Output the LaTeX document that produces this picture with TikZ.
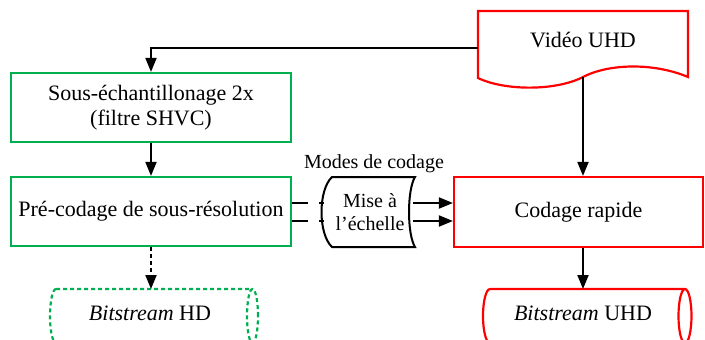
\documentclass[tikz,border=0pt]{standalone}
\usepackage{fontspec}
\setmainfont{Liberation Serif}
\usetikzlibrary{arrows.meta}
\definecolor{boxgreen}{RGB}{0,176,80}
\definecolor{boxred}{RGB}{255,0,0}
\begin{document}
\begin{tikzpicture}[x=1pt,y=-1pt,
  every node/.style={font=\fontsize{22}{25}\selectfont, inner sep=0pt},
  greenbox/.style={draw=boxgreen, line width=2.2pt, minimum width=280pt, minimum height=69pt, align=center},
  redbox/.style={draw=boxred, line width=2.2pt, minimum width=249pt, minimum height=70pt, align=center},
  conn/.style={line width=2pt, -{Triangle[length=14pt,width=11pt]}},
  smalltext/.style={font=\fontsize{20}{23}\selectfont, align=center}]
\useasboundingbox (0,0) rectangle (705,340);
\clip (0,0) rectangle (705,340);

% Video UHD (document shape)
\draw[boxred, line width=2.2pt] (478,11) -- (688,11) -- (688,77)
  .. controls (655,63) and (610,63) .. (583,77)
  .. controls (556,91) and (505,91) .. (478,78) -- cycle;
\node (video) at (583,40) {Vidéo UHD};
\coordinate (videoL) at (478,48);
\coordinate (videoB) at (583,77);

% boxes
\node[greenbox] (sous) at (151,107.5) {Sous-échantillonage 2x\\(filtre SHVC)};
\node[greenbox] (pre) at (151,211.5) {Pré-codage de sous-résolution};
\node[redbox] (codage) at (578.5,212) {Codage rapide};

% Mise a l'echelle (stored data shape)
\draw[line width=2pt] (332,177) -- (415,177)
  .. controls (407,190) and (407,234) .. (415,247) -- (332,247)
  .. controls (318,234) and (318,190) .. (332,177) -- cycle;
\node[smalltext] (mise) at (370,212) {Mise à\\l’échelle};
\node[smalltext, anchor=base] (modes) at (374,168) {Modes de codage};
\coordinate (miseLa) at (323.5,203);
\coordinate (miseLb) at (323.5,221);
\coordinate (miseRa) at (413,203);
\coordinate (miseRb) at (413,221);

% Bitstream HD cylinder
\draw[boxgreen, line width=2.2pt, dash pattern=on 4pt off 3pt]
  (56,289) -- (252.5,289)
  (56,289) arc[start angle=90, end angle=270, x radius=6pt, y radius=27pt] -- (252.5,343)
  (252.5,316) ellipse[x radius=5.5pt, y radius=27pt];
\node (hd) at (150,313) {\textit{Bitstream} HD};
\coordinate (hdT) at (151,289);

% Bitstream UHD cylinder
\draw[boxred, line width=2.2pt]
  (490,289) -- (685,289)
  (490,289) arc[start angle=90, end angle=270, x radius=7pt, y radius=27pt] -- (685,343)
  (685,316) ellipse[x radius=6.5pt, y radius=27pt];
\node (uhd) at (583,313) {\textit{Bitstream} UHD};
\coordinate (uhdT) at (583,289);

% connectors
\draw[conn] (videoL) -| (sous.north);
\draw[conn] (sous.south) -- (pre.north);
\draw[conn, dash pattern=on 4pt off 3pt] (pre.south) -- (hdT);
\draw[conn] (videoB) -- (videoB |- codage.north);
\draw[conn] (codage.south -| uhdT) -- (uhdT);
\draw[line width=2pt, dash pattern=on 16pt off 11pt] (pre.east |- miseLa) -- (miseLa);
\draw[line width=2pt, dash pattern=on 16pt off 11pt] (pre.east |- miseLb) -- (miseLb);
\draw[conn] (miseRa) -- (codage.west |- miseRa);
\draw[conn] (miseRb) -- (codage.west |- miseRb);
\end{tikzpicture}
\end{document}
